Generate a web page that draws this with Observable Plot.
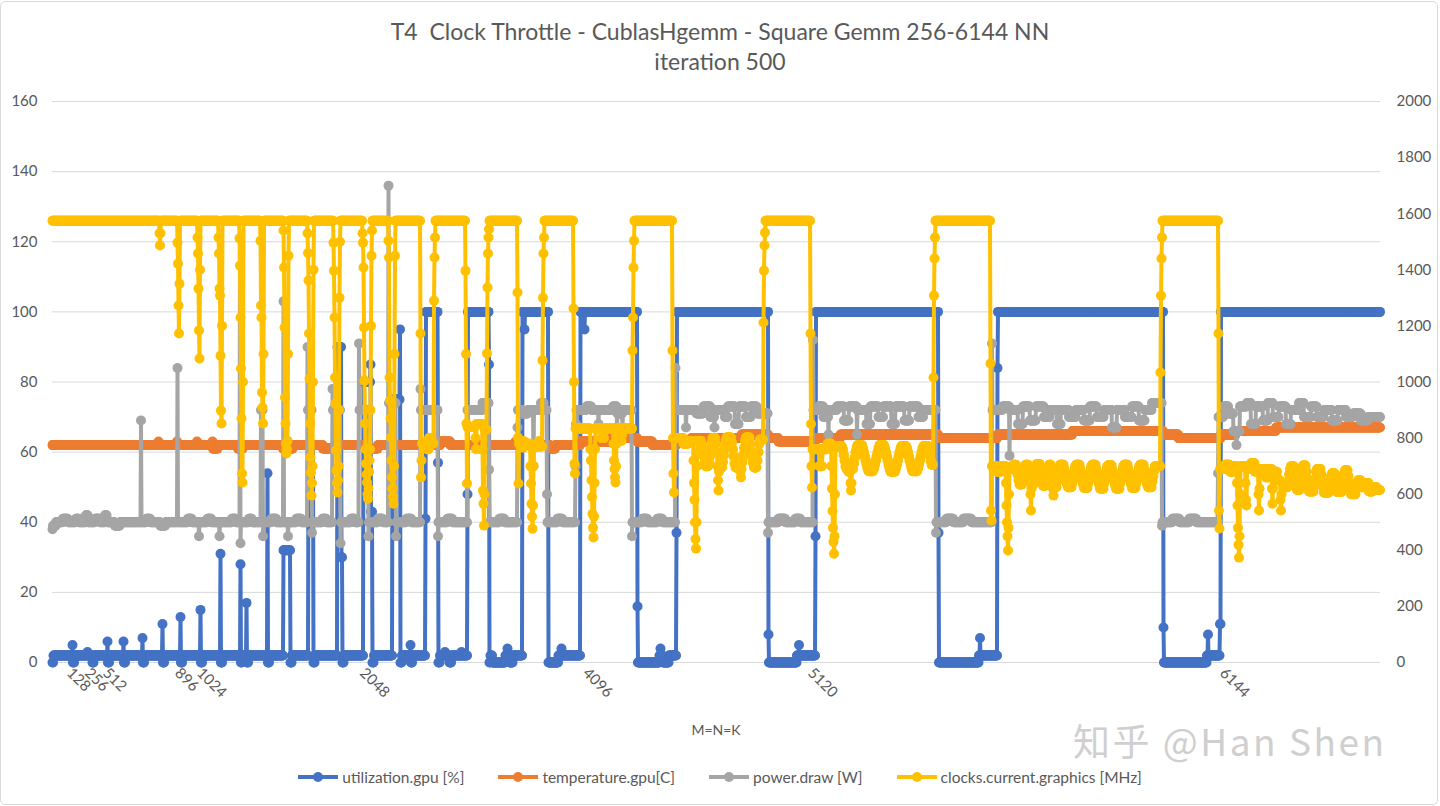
<!DOCTYPE html>
<html><head><meta charset="utf-8">
<script src="https://cdn.jsdelivr.net/npm/d3@7"></script>
<script src="https://cdn.jsdelivr.net/npm/@observablehq/plot@0.6"></script>
<style>
body{margin:0;background:#fff;font-family:Lato,"Open Sans",sans-serif;color:#595959;}
#wrap{position:relative;width:1440px;height:806px;overflow:hidden;background:#fff;}
#frame{position:absolute;left:0;top:1px;width:1436px;height:802px;border:1px solid #d9d9d9;border-radius:5px;}
#title{position:absolute;left:0;top:16px;width:1440px;text-align:center;font-size:23px;line-height:30px;color:#595959;}
#chart{position:absolute;left:0;top:88px;}
#xlabel{position:absolute;left:52px;width:1328px;top:720px;text-align:center;font-size:14px;line-height:20px;}
#legend{position:absolute;left:0;width:1440px;top:767px;height:20px;display:flex;justify-content:center;gap:34px;font-size:15.5px;line-height:20px;}
#legend .it{display:flex;align-items:center;gap:4px;}
#wm{position:absolute;left:1073px;top:721px;font-family:"Noto Sans CJK SC",sans-serif;font-size:37px;line-height:38px;height:38px;letter-spacing:2.5px;color:#cfcfcf;white-space:nowrap;}
</style></head><body>
<div id="wrap">
<div id="frame"></div>
<div id="title">T4&nbsp; Clock Throttle - CublasHgemm - Square Gemm 256-6144 NN<br>iteration 500</div>
<div id="chart"></div>
<div id="xlabel">M=N=K</div>
<div id="wm">知乎 @Han Shen</div>
<div id="legend"></div>
</div>
<script>
// ---- data (run-length: [value, count] or single value), 2 samples per horizontal step ----
const seriesNames = ["utilization.gpu [%]", "temperature.gpu[C]", "power.draw [W]", "clocks.current.graphics [MHz]"];
const seriesColors = ["#4472C4", "#ED7D31", "#A5A5A5", "#FFC000"];

const utilRuns = [[0,2],[2,38],5,[0,3],[2,26],3,[2,9],[0,3],[2,27],6,[0,3],[2,28],6,[0,3],[2,34],7,[0,3],[2,36],11,[0,3],[2,32],13,[0,3],[2,36],15,[0,3],[2,36],31,[0,3],[2,36],28,[0,2],[2,9],17,[0,3],[2,38],54,[0,3],[2,28],[32,14],[0,3],[2,33],[62,10],[0,3],[2,45],[90,8],30,30,[0,3],[2,39],[80,14],85,43,[43,2],[0,3],[2,37],[75,15],95,[0,3],[2,17],5,[0,3],[2,16],
 [2,10],41,[100,24],57,[0,3],[2,10],3,[2,8],[0,4],[2,20],3,[2,11],
 48,[100,42],85,[0,2],[2,4],[0,26],[2,4],4,[2,4],[0,6],[2,19],
 [100,4],95,[100,47],[0,20],[2,6],4,[2,37],
 [100,8],95,[100,105],16,[0,43],[2,2],4,[2,4],[0,12],[2,15],
 37,[100,183],8,[0,56],[2,4],5,[2,32],
 36,[100,245],37,[0,80],[2,2],7,[2,34],
 84,[100,331],10,[0,86],[2,2],8,[2,23],11,11,
 [100,319]];

const tempRuns = [[62,212],63,[62,36],63,[62,39],63,[62,30],63,[61,10],[62,40],[61,10],[62,80],[61,20],[62,60],[61,30],[62,60],[61,20],[62,85],
 [62,40],[63,20],[62,60],[61,10],[62,60],[63,10],[62,60],[61,10],[62,50],
 [63,60],[64,54],[63,30],[62,48],[63,30],[64,100],[65,54],[64,20],[63,74],[64,50],[65,196],[64,118],[65,150],[66,182],[65,30],[64,85],[65,30],[66,80],[67,209]];

const powerRuns = [38,[39,6],[40,14],[41,10],[40,16],[41,6],[40,14],[42,4],[40,14],[41,10],[40,10],[42,4],[40,16],[39,10],[40,42],69,[40,10],[41,8],[40,20],[39,10],[40,24],84,[40,20],[41,8],[40,14],36,[40,16],[41,8],[40,16],36,[40,24],[41,8],[40,8],121,34,[40,16],[41,6],[40,18],[72,4],36,[40,16],[41,10],[40,14],103,[40,8],36,[40,16],[41,10],[40,12],90,[72,8],37,[40,20],[41,8],[40,12],78,[72,15],34,[40,20],[41,8],[40,8],91,[72,18],36,[40,18],[41,10],[40,11],136,[74,14],36,[40,20],[41,10],[40,18],
 78,[72,34],36,[40,18],[41,10],[40,30],
 [72,30],[74,13],55,[40,20],[41,10],[40,26],
 67,[72,8],[71,12],[72,11],56,[72,14],[74,6],[72,6],48,[40,20],[41,10],[40,26],56,68,[72,20],[73,10],[72,14],68,[72,28],[73,8],67,[71,10],67,[72,18],36,
 [40,20],[41,10],[40,20],[41,10],[40,26],84,
 [72,20],67,[72,20],[71,14],[73,14],[70,8],67,[72,20],[70,6],[73,14],[68,8],[73,14],[70,10],[73,12],[71,22],37,
 [40,20],[41,14],[40,20],[41,10],[40,25],92,
 [72,10],[73,10],[70,10],65,[72,16],[73,14],[69,10],[73,16],65,[72,18],[68,8],[73,16],[70,10],[73,16],[68,8],[73,18],[69,10],[73,18],[70,10],[72,25],37,
 [40,20],[41,14],[40,20],[41,16],[40,41],91,
 [72,20],[73,14],59,[72,16],[68,10],[73,14],[69,12],[73,16],[70,12],[72,14],[68,8],[72,16],[70,14],[72,16],[69,12],[73,14],[70,14],[72,16],[67,10],[72,16],[70,14],[73,14],[69,12],[72,14],[74,20],39,
 [40,20],[41,14],[40,20],[41,14],[40,43],54,
 [70,10],[73,10],[71,10],[66,6],62,[66,6],[73,14],[74,8],[68,10],[73,14],[69,10],[74,10],[70,12],[73,14],[68,10],[72,16],[74,10],[70,14],[73,12],[70,14],[72,16],[69,12],[72,16],[70,14],[71,16],[69,14],[70,25]];

const clockRuns = [[1575,214],1530,1487,1530,[1575,33],1497,1422,1273,1173,1350,[1575,35],1515,1458,1333,1184,1084,1400,[1575,36],1515,1458,1333,1308,1094,898,852,1200,[1575,34],1512,1415,1230,1048,870,674,642,1000,[1575,34],1504,1273,1230,963,909,852,1100,[1575,39],1540,1408,1194,945,852,780,745,760,790,1100,1450,[1575,37],1530,1460,1362,1173,1012,852,731,677,595,640,700,1000,1400,[1575,39],1497,1397,1230,1016,923,756,684,640,606,650,700,900,1300,1500,[1575,44],1530,1497,1408,1194,1005,852,760,709,670,642,600,584,620,680,720,760,900,1200,1450,1540,[1575,32],1504,1444,1016,934,870,802,720,660,620,590,566,700,1100,1450,[1575,50],
 1173,660,720,[781,10],[760,4],[800,6],[781,4],1290,1444,1515,[1575,60],1397,1100,852,638,
 [840,16],800,760,[850,12],760,613,566,488,600,[830,4],1102,1337,1458,1515,1545,[1575,56],
 1319,802,638,[780,8],766,790,[780,13],700,638,566,520,477,560,700,[770,10],790,780,[770,5],1077,1300,1458,1515,[1575,58],
 1262,1000,709,674,[834,30],760,720,650,590,530,480,446,520,640,760,[834,12],[800,6],[834,18],780,720,690,660,642,700,780,[834,8],800,790,810,[834,20],1112,1230,1408,1504,[1575,76],
 1112,800,674,606,[800,18],[780,10],[790,10],720,640,580,500,440,406,500,700,[790,8],[775,2],[755,2],[735,2],[715,2],[700,6],[715,2],[735,2],[760,2],[785,2],[800,6],[780,2],[750,2],700,650,613,680,[695,6],[715,2],[740,2],[765,2],[790,2],[802,10],[785,2],[760,2],[735,2],[710,2],[695,6],[695,4],680,660,690,[715,2],[740,2],[765,2],[790,2],[802,8],[780,2],[755,2],[730,2],[710,2],[695,6],[720,2],[750,2],[780,2],[795,7],1212,1397,1487,1533,[1575,90],
 1173,850,700,624,[760,14],[700,6],[760,10],[780,8],700,620,540,480,430,388,450,600,[770,14],[760,2],[740,2],[720,2],[700,2],[690,4],[680,4],640,613,640,[690,3],[710,2],[730,2],[750,2],[765,2],
 [775,10],[765,2],[750,2],[735,2],[720,2],[705,2],[692,2],[682,10],[692,2],[705,2],[720,2],[735,2],[750,2],[765,2],
 [775,10],[765,2],[750,2],[735,2],[720,2],[705,2],[692,2],[680,10],[692,2],[705,2],[720,2],[735,2],[750,2],[765,2],
 [772,10],[765,2],[750,2],[735,2],[720,2],[705,2],[692,2],[682,10],[692,2],[705,2],[720,2],[735,2],[750,2],[765,2],
 [772,10],[760,2],[740,2],[720,2],[705,4],1016,1308,1440,1515,[1575,110],
 1066,542,506,[700,10],[680,8],[700,10],640,560,500,450,399,480,600,[690,8],[705,6],[690,2],[670,2],[650,2],[635,6],[650,2],[670,2],[690,2],[705,6],[680,2],[650,2],600,542,620,[635,4],[655,2],[680,2],[700,2],[708,6],[690,2],[665,2],[645,2],[630,6],[650,2],[675,2],[695,2],[705,4],[680,2],[650,2],620,595,[625,6],[645,2],[670,2],[695,2],
 [705,8],[690,2],[670,2],[650,2],[635,2],[625,8],[640,2],[660,2],[680,2],[698,2],
 [705,8],[690,2],[670,2],[650,2],[635,2],[622,8],[640,2],[660,2],[680,2],[698,2],
 [705,8],[690,2],[670,2],[650,2],[635,2],[620,8],[640,2],[660,2],[680,2],[698,2],
 [703,8],[688,2],[668,2],[648,2],[632,2],[620,8],[640,2],[660,2],[680,2],[698,2],
 [705,8],[690,2],[670,2],[650,2],[635,2],[622,8],[640,2],[660,2],[680,2],[698,2],
 [705,8],[690,2],[670,2],[650,2],[635,2],[625,8],[645,2],[665,2],[685,2],[700,11],1034,1308,1440,1515,[1575,112],
 1173,542,478,[690,10],[705,10],[680,8],[700,6],640,560,480,420,374,450,600,[700,10],640,580,560,[690,8],[710,8],[680,7],600,542,620,[690,12],[660,6],[690,6],620,566,620,[680,8],[650,6],580,542,600,[640,6],[625,6],[645,2],[670,2],[690,2],[700,6],[680,2],[655,2],[630,2],[615,6],[640,2],[665,2],[690,2],[702,6],[680,2],[655,2],[630,2],[610,10],[630,2],[655,2],[680,2],[690,8],[670,2],[645,2],[625,2],[605,10],[625,2],[645,2],[665,2],[675,6],[655,2],[630,2],[608,10],[630,2],[655,2],[675,2],[685,6],[665,2],[640,2],[620,2],[600,10],[620,2],[640,2],[650,6],[625,8],[640,8],[610,8],[625,8],[615,7]];

const xTickSamples = [34, 70, 106, 250, 294, 620, 1066, 1516, 2340];
const xTickLabels  = ["128", "256", "512", "896", "1024", "2048", "4096", "5120", "6144"];
const leftTicks  = [0, 20, 40, 60, 80, 100, 120, 140, 160];
const rightTicks = [0, 200, 400, 600, 800, 1000, 1200, 1400, 1600, 1800, 2000];
const rightMax = 2000, leftMax = 160;

// ---- build ----
function expand(runs){const out=[];for(const r of runs){if(Array.isArray(r)){for(let k=0;k<r[1];k++)out.push(r[0]);}else out.push(r);}return out;}
const k = leftMax / rightMax;
const all = [utilRuns, tempRuns, powerRuns, clockRuns].map(expand);
const rows = all.map((vals, j) => vals.map((v, i) => ({i, v: j === 3 ? v * k : v})));
const labelMap = new Map(xTickSamples.map((s, i) => [s, xTickLabels[i]]));

const marks = [
  Plot.ruleY(leftTicks, {stroke: "#d9d9d9", strokeWidth: 1}),
  Plot.axisY({ticks: leftTicks, tickSize: 0, tickPadding: 15, label: null, fontSize: 15}),
  Plot.axisY({anchor: "right", ticks: rightTicks.map(t => t * k), tickFormat: t => String(Math.round(t / k)), tickSize: 0, tickPadding: 16, label: null, fontSize: 15}),
  Plot.axisX({ticks: xTickSamples, tickFormat: d => labelMap.get(d), tickRotate: 45, tickSize: 0, tickPadding: 8, label: null, fontSize: 15, textAnchor: "start"})
];
rows.forEach((data, j) => {
  marks.push(Plot.line(data, {x: "i", y: "v", stroke: seriesColors[j], strokeWidth: 4, strokeLinejoin: "round"}));
  marks.push(Plot.dot(data, {x: "i", y: "v", r: 5, fill: seriesColors[j], stroke: "none"}));
});

const chart = Plot.plot({
  width: 1440, height: 660,
  marginTop: 13, marginBottom: 86, marginLeft: 52, marginRight: 60,
  x: {domain: [0, 2656]},
  y: {domain: [0, leftMax]},
  style: {color: "#595959", fontFamily: "Lato, 'Open Sans', sans-serif", fontSize: "15px", background: "transparent"},
  marks
});
document.getElementById("chart").appendChild(chart);

const lg = document.getElementById("legend");
seriesNames.forEach((n, j) => {
  const it = document.createElement("div"); it.className = "it";
  it.innerHTML = `<svg width="40" height="14"><line x1="0" y1="7" x2="40" y2="7" stroke="${seriesColors[j]}" stroke-width="4"/><circle cx="20" cy="7" r="5" fill="${seriesColors[j]}"/></svg><span>${n}</span>`;
  lg.appendChild(it);
});
const lens = all.map(a => a.length);
if (lens.some(l => l !== 2656)) throw new Error("lengths " + lens.join(","));
</script>
</body></html>
